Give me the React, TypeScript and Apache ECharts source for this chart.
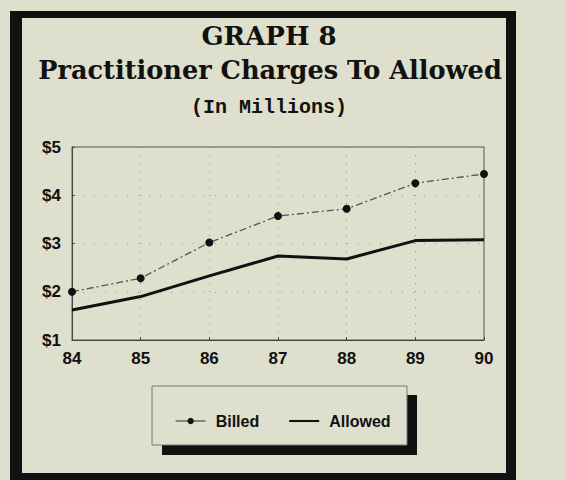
import React, { useEffect, useRef } from "react";
import * as echarts from "echarts";

const years = ["84", "85", "86", "87", "88", "89", "90"];
const billed = [2.0, 2.28, 3.02, 3.57, 3.72, 4.25, 4.44];
const allowed = [1.62, 1.9, 2.33, 2.74, 2.68, 3.06, 3.08];
const yTicks = { min: 1, max: 5, interval: 1 };

export default function App() {
  const ref = useRef<HTMLDivElement>(null);
  useEffect(() => {
    if (!ref.current) return;
    const chart = echarts.init(ref.current, null, { renderer: "svg" });
    const bold = { fontFamily: "Liberation Sans", fontWeight: "bold", color: "#111" };
    chart.setOption({
      animation: false,
      backgroundColor: "#dedfcd",
      title: [
        {
          text: "GRAPH 8",
          left: 264,
          top: 18,
          textAlign: "center",
          textStyle: { fontFamily: "DejaVu Serif", fontWeight: "bold", fontSize: 26, color: "#111" },
        },
        {
          text: "Practitioner Charges To Allowed",
          left: 265,
          top: 52,
          textAlign: "center",
          textStyle: { fontFamily: "DejaVu Serif", fontWeight: "bold", fontSize: 25.6, color: "#111" },
        },
        {
          text: "(In Millions)",
          left: 264,
          top: 92,
          textAlign: "center",
          textStyle: { fontFamily: "Liberation Mono", fontWeight: "bold", fontSize: 20, color: "#111" },
        },
      ],
      graphic: [
        { type: "rect", shape: { x: 10, y: 11, width: 506, height: 470 }, style: { fill: "#111" }, z: -10 },
        { type: "rect", shape: { x: 22, y: 18, width: 484, height: 455 }, style: { fill: "#dedfcd" }, z: -9 },
        { type: "rect", shape: { x: 162, y: 395, width: 255, height: 60 }, style: { fill: "#111" }, z: -5 },
        {
          type: "rect",
          shape: { x: 152, y: 386, width: 255, height: 59 },
          style: { fill: "#dedfcd", stroke: "#777", lineWidth: 1 },
          z: -4,
        },
      ],
      legend: {
        left: 170,
        top: 408,
        itemWidth: 30,
        itemHeight: 8,
        itemGap: 30,
        lineStyle: { type: "solid", width: 1.3 },
        textStyle: { ...bold, fontSize: 16, padding: [0, 0, 0, 5] },
        data: [
          { name: "Billed" },
          { name: "Allowed", icon: "path://M0,4L36,4L36,6.5L0,6.5Z", itemStyle: { color: "#111" } },
        ],
      },
      grid: {
        left: 72,
        right: 82,
        top: 147,
        bottom: 140,
        show: true,
        borderColor: "#555",
        borderWidth: 1,
        backgroundColor: "transparent",
      },
      xAxis: {
        type: "category",
        data: years,
        boundaryGap: false,
        axisLine: { lineStyle: { color: "#444", width: 1 } },
        axisTick: { show: true, length: 3, inside: true, lineStyle: { color: "#444" } },
        axisLabel: { ...bold, fontSize: 17, margin: 10 },
        splitLine: { show: true, lineStyle: { color: "#888", type: [1, 7], width: 1 } },
      },
      yAxis: {
        type: "value",
        ...yTicks,
        axisLine: { show: true, lineStyle: { color: "#444", width: 1 } },
        axisTick: { show: true, length: 3, inside: true, lineStyle: { color: "#444" } },
        axisLabel: { ...bold, fontSize: 17, margin: 11, formatter: (v: number) => "$" + v },
        splitLine: { show: true, lineStyle: { color: "#999", type: [1, 10], width: 1 } },
      },
      series: [
        {
          name: "Billed",
          type: "line",
          data: billed,
          symbol: "circle",
          symbolSize: 8,
          itemStyle: { color: "#111" },
          lineStyle: { color: "#555", width: 1.3, type: [7, 3, 2, 3] },
          z: 3,
        },
        {
          name: "Allowed",
          type: "line",
          data: allowed,
          symbol: "none",
          itemStyle: { color: "#111" },
          lineStyle: { color: "#111", width: 3 },
          z: 2,
        },
      ],
    });
    return () => chart.dispose();
  }, []);
  return (
    <div
      ref={ref}
      style={{ position: "fixed", left: 0, top: 0, width: 566, height: 480 }}
    />
  );
}
